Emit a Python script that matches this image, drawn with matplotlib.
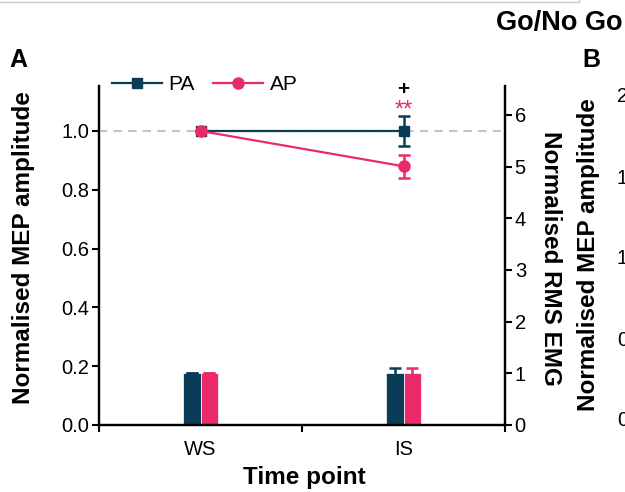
import matplotlib
matplotlib.use("Agg")
import matplotlib.pyplot as plt
from matplotlib.lines import Line2D
import numpy as np

plt.rcParams['font.family'] = ['Liberation Sans', 'DejaVu Sans']

# ---- data ----
time_points = ["WS", "IS"]
mep_pa = [1.0, 1.0]
mep_pa_err = [0.0, 0.05]
mep_ap = [1.0, 0.88]
mep_ap_err = [0.0, 0.04]
emg_pa = [1.0, 1.01]
emg_pa_err = [0.0, 0.09]
emg_ap = [1.0, 1.01]
emg_ap_err = [0.0, 0.09]
panel_b_ticks = ["2.0", "1.5", "1.0", "0.5", "0.0"]

c_pa = "#0b3c57"
c_ap = "#ea2a6a"

fig = plt.figure(figsize=(6.25, 4.92), dpi=100)
ax = fig.add_axes([99/625, 1-425/492, 406/625, 339/492])
ax2 = ax.twinx()
ax.set_zorder(ax2.get_zorder() + 1)
ax.patch.set_visible(False)

x = np.arange(len(time_points))
bw = 0.085
ax2.bar(x - bw/2, emg_pa, bw, color=c_pa, edgecolor="white", linewidth=0.5,
        yerr=emg_pa_err, error_kw=dict(ecolor=c_pa, capsize=4, elinewidth=1.8, capthick=1.8))
ax2.bar(x + bw/2, emg_ap, bw, color=c_ap, edgecolor="white", linewidth=0.5,
        yerr=emg_ap_err, error_kw=dict(ecolor=c_ap, capsize=4, elinewidth=1.8, capthick=1.8))

ax.axhline(1.0, color="#c4c4c4", ls=(0, (4, 3)), lw=1.5, zorder=1)
ax.errorbar(x, mep_pa, yerr=mep_pa_err, color=c_pa, marker="s", ms=7.5, lw=1.6,
            capsize=4, elinewidth=1.8, capthick=1.8, zorder=3)
ax.errorbar(x, mep_ap, yerr=mep_ap_err, color=c_ap, marker="o", ms=8, lw=1.6,
            capsize=4, elinewidth=1.8, capthick=1.8, zorder=4)

ax.text(1, 1.142, "+", ha="center", va="center", fontsize=15, fontweight="bold",
        color="black", clip_on=False)
ax.text(1, 1.068, "**", ha="center", va="center", fontsize=17,
        color=c_ap, clip_on=False)

ax.set_xlim(-0.5, 1.5)
ax.set_ylim(0, 1.153)
ax2.set_ylim(0, 6.56)
ax.set_yticks([0, 0.2, 0.4, 0.6, 0.8, 1.0])
ax.set_yticklabels(["0.0", "0.2", "0.4", "0.6", "0.8", "1.0"])
ax2.set_yticks(range(7))

ax.set_xticks([-0.5, 0.5, 1.5])
ax.set_xticklabels([])
ax.set_xticks(x, minor=True)
ax.set_xticklabels(time_points, minor=True)
ax.tick_params(axis="x", which="minor", length=0, pad=11, labelsize=14.5)
ax.tick_params(axis="x", which="major", length=5, width=1.5)
ax.tick_params(axis="y", length=5, width=1.5, labelsize=14.5, pad=2)
ax2.tick_params(axis="y", length=5, width=1.5, labelsize=14.5, pad=2)

for a in (ax, ax2):
    a.spines["top"].set_visible(False)
    for s in ("left", "right", "bottom"):
        a.spines[s].set_linewidth(1.6)

ax.set_ylabel("Normalised MEP amplitude", fontsize=17.5, fontweight="bold")
ax.yaxis.set_label_coords(-0.187, 0.522)
ax.yaxis.label.set_va("center")
ax2.set_ylabel("Normalised RMS EMG", fontsize=17.5, fontweight="bold", rotation=270)
ax2.yaxis.set_label_coords(1.113, 0.49)
ax2.yaxis.label.set_va("center")
ax.set_xlabel("Time point", fontsize=17.5, fontweight="bold")
ax.xaxis.set_label_coords(0.505, -0.156)
ax.xaxis.label.set_va("center")

handles = [Line2D([], [], color=c_pa, marker="s", ms=7.5, lw=1.6),
           Line2D([], [], color=c_ap, marker="o", ms=8, lw=1.6)]
ax.legend(handles, ["PA", "AP"], ncol=2, loc="center left", bbox_to_anchor=(0.032, 1.003),
          frameon=False, fontsize=15, handlelength=2.4, handletextpad=0.3,
          columnspacing=0.9, borderaxespad=0, borderpad=0)

fig.text(18/625, 1-60/492, "A", fontsize=18, fontweight="bold", ha="center", va="center")
fig.text(591/625, 1-60/492, "B", fontsize=18, fontweight="bold", ha="center", va="center")
fig.text(622/625, 1-23/492, "Go/No Go", fontsize=19.5, fontweight="bold", ha="right", va="center")
fig.text(588/625, 1-255/492, "Normalised MEP amplitude", fontsize=17.5, fontweight="bold",
         rotation=90, ha="center", va="center")
for i, t in enumerate(panel_b_ticks):
    fig.text(617/625, 1-(97 + 81*i)/492, t, fontsize=14.5, ha="left", va="center")

fig.add_artist(Line2D([0, 579/625, 579/625], [1-2/492, 1-2/492, 1-0/492],
                      transform=fig.transFigure, color="#c8c8c8", lw=1))

fig.savefig("out.png", dpi=100)
